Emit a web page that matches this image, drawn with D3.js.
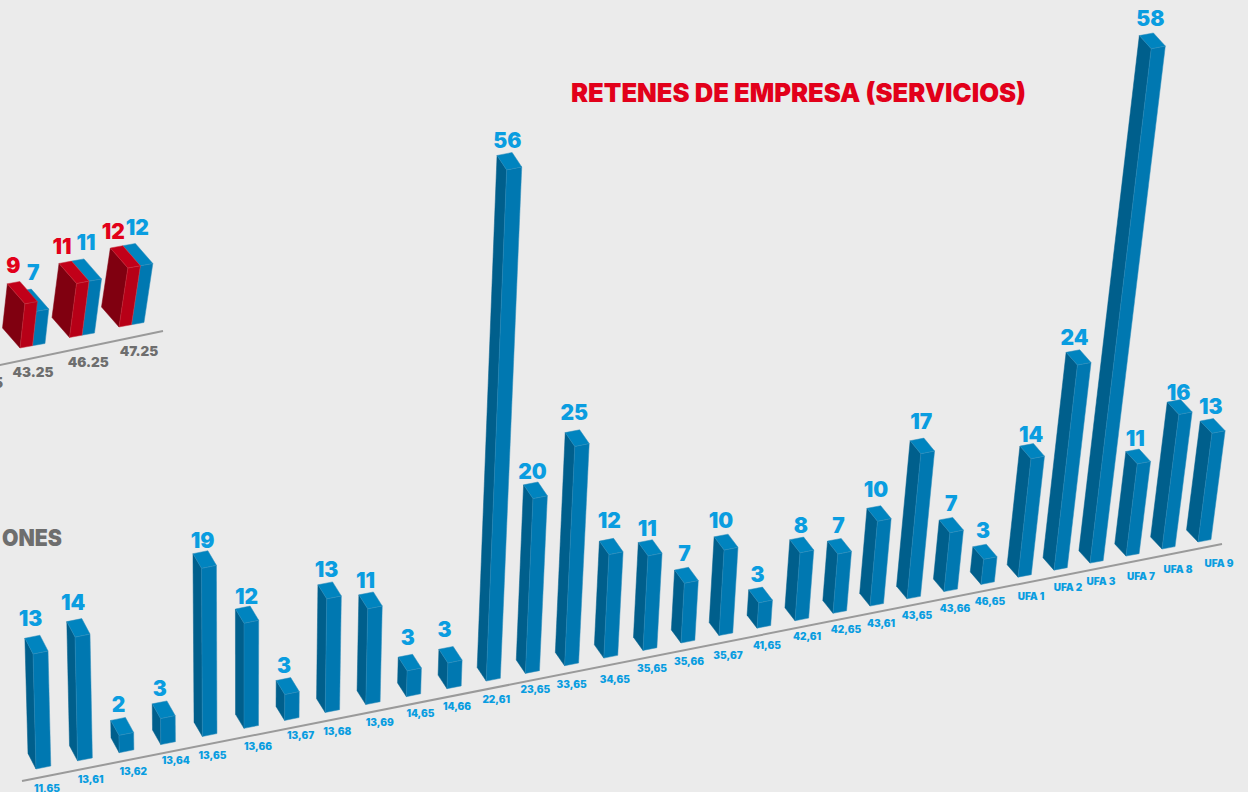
<!DOCTYPE html>
<html><head><meta charset="utf-8">
<style>html,body{margin:0;padding:0;background:#ebebeb;overflow:hidden}svg{display:block}
text{font-family:Inter,"Noto Sans",sans-serif;font-weight:900}</style>
<script src="https://cdn.jsdelivr.net/npm/d3@7/dist/d3.min.js"></script>
</head><body><svg id="c" width="1248" height="792"></svg>
<script>
// Main chart data
const categories = ["11,65","13,61","13,62","13,64","13,65","13,66","13,67","13,68","13,69","14,65","14,66","22,61","23,65","33,65","34,65","35,65","35,66","35,67","41,65","42,61","42,65","43,61","43,65","43,66","46,65","UFA 1","UFA 2","UFA 3","UFA 7","UFA 8","UFA 9"];
const values = [13,14,2,3,19,12,3,13,11,3,3,56,20,25,12,11,7,10,3,8,7,10,17,7,3,14,24,58,11,16,13];
// Secondary (clipped) chart data
const leftTicks = ["5","43.25","46.25","47.25"];
const leftRed = [null,9,11,12];
const leftBlue = [null,7,11,12];
// Hand placement of the labels, as in the reference
const tickNudgeX = [11,13,14,15,10,14,16,12,14,14,10,10,10,7,11,9,8,9,10,12,13,11,10,11,9,13,14,11,15,16,21];
const tickNudgeY = [19,19,19,16,19,18,15,19,18,17,18,18,16,19,21,18,18,20,17,16,16,17,17,17,17,19,17,18,20,20,21];
const valueNudgeX = [0,0,1,0,1,2,-2,-2,-4,-1,-5,-1,-2,-2,-1,-2,-1,-4,-2,0,0,-2,0,1,-1,0,-3,-1,-2,0,-1];
const valueNudgeY = [-3,-3,1,1,3,4,1,1,2,-3,-3,2,3,-4,-4,2,0,0,1,2,1,-3,-3,0,0,4,1,-1,3,6,1];

const BLUE = {side:"#005f8c", front:"#0078b1", top:"#0084bf", text:"#0a9de0"};
const RED = {side:"#800010", front:"#b70017", top:"#c10019", text:"#e2001a"};
const svg = d3.select("#c");
const poly = (g,pts,fill,edge)=>g.append("polygon")
  .attr("points",pts.map(p=>p.join(",")).join(" "))
  .attr("fill",fill).attr("stroke",edge).attr("stroke-width",0.5).attr("stroke-linejoin","round");
const add=(a,b,k=1)=>[a[0]+b[0]*k,a[1]+b[1]*k];

// Perspective scales of the main chart (index is 1-based along the axis)
const xBase = d3.scaleLinear().domain([1,6,11,16,21,26,31]).range([36,244,447,643,833,1018,1198]);
const yBase = d3.scaleLinear().domain([36,1198]).range([769,542]);
const perUnit = d3.scaleLinear().domain([1,12,31]).range([8.71,8.55,8.24]);
const stretch = d3.scaleLinear().domain([0,58]).range([1,1.07]);
const lean = d3.scaleLinear().domain([1,6,12,18,23,28,31]).range([-.026,0,.04,.059,.095,.119,.128]);
const wx = d3.scaleLinear().domain([1,31]).range([14.8,13]);
const wy = d3.scaleLinear().domain([1,31]).range([-3,-2.4]);
const dx = d3.scaleLinear().domain([1,12,31]).range([-8,-9,-11.5]);
const dy = d3.scaleLinear().domain([1,6,31]).range([-15.5,-14,-12]);
const labelShift = d3.scaleLinear().domain([1,8]).range([-6,-1]).clamp(true);

// Axis line
svg.append("line").attr("x1",22).attr("y1",781).attr("x2",1222).attr("y2",544)
  .attr("stroke","#9a9a9a").attr("stroke-width",2);

const bars = svg.append("g");
values.forEach((v,k)=>{
  const i=k+1, x=xBase(i), y=yBase(x), h=v*perUnit(i)*stretch(v), s=stretch(v);
  const FLb=[x,y], FLt=[x+lean(i)*h,y-h];
  const w=[wx(i),wy(i)], d=[dx(i),dy(i)];
  const FRb=add(FLb,w), FRt=add(FLt,w,s), BLb=add(FLb,d), BLt=add(FLt,d,s), BRt=add(BLt,w,s);
  const g=bars.append("g");
  poly(g,[FLb,FLt,BLt,BLb],BLUE.side,BLUE.side);
  poly(g,[FLb,FRb,FRt,FLt],BLUE.front,"#2c8cba");
  poly(g,[FLt,FRt,BRt,BLt],BLUE.top,"#2c8cba");
  const cx=(BLt[0]+FRt[0])/2+labelShift(i)+valueNudgeX[k];
  g.append("text").attr("x",cx).attr("y",BRt[1]-6+valueNudgeY[k]).attr("text-anchor","middle")
    .attr("font-size",21).attr("fill",BLUE.text).text(v);
  svg.append("text").attr("x",x+tickNudgeX[k]).attr("y",y+tickNudgeY[k]+3.6).attr("text-anchor","middle")
    .attr("font-size",10).attr("fill",BLUE.text).text(categories[k]);
});

// Secondary chart
const lx = d3.scaleLinear().domain([0,2]).range([20,119]);
const ly = d3.scaleLinear().domain([0,2]).range([348,327]);
const lh = d3.scaleLinear().domain([0,12]).range([0,59]);
const ll = d3.scaleLinear().domain([0,2]).range([.11,.15]);
const tickDx = d3.scaleLinear().domain([0,1,2]).range([13,18.7,20]);
svg.append("line").attr("x1",-5).attr("y1",366).attr("x2",163).attr("y2",331)
  .attr("stroke","#9a9a9a").attr("stroke-width",2);
leftTicks.forEach((t,k)=>{
  const gi=k-1, x=lx(gi), y=ly(gi);
  if(leftRed[k]==null){
    svg.append("text").attr("x",3).attr("y",y+24+5).attr("text-anchor","end")
      .attr("font-size",14).attr("fill","#6e6e6e").text(t);
    return;
  }
  svg.append("text").attr("x",x+tickDx(gi)).attr("y",y+24+5).attr("text-anchor","middle")
    .attr("font-size",13.5).attr("fill","#6e6e6e").text(t);
  const depth=[-17.5,-20], wR=[12.5,-2.3], wB=[12.5,-2.2];
  const g=svg.append("g");
  // blue box, behind
  const hB=lh(leftBlue[k]), bFLb=add([x,y],wR), bFLt=[bFLb[0]+ll(gi)*hB,bFLb[1]-hB];
  const bFRb=add(bFLb,wB), bFRt=add(bFLt,wB), bBLt=add(bFLt,depth), bBRt=add(bBLt,wB);
  poly(g,[bFLb,bFRb,bFRt,bFLt],BLUE.front,"#2c8cba");
  poly(g,[bFLt,bFRt,bBRt,bBLt],BLUE.top,"#2c8cba");
  // red box, in front
  const hR=lh(leftRed[k]), FLb=[x,y], FLt=[x+ll(gi)*hR,y-hR];
  const FRb=add(FLb,wR), FRt=add(FLt,wR), BLb=add(FLb,depth), BLt=add(FLt,depth), BRt=add(BLt,wR);
  poly(g,[FLb,FLt,BLt,BLb],RED.side,RED.side);
  poly(g,[FLb,FRb,FRt,FLt],RED.front,"#c8303f");
  poly(g,[FLt,FRt,BRt,BLt],RED.top,"#c8303f");
  g.append("text").attr("x",BLt[0]+(gi===0?6:3)).attr("y",BLt[1]-(gi===0?11:9)).attr("text-anchor","middle")
    .attr("font-size",21).attr("fill",RED.text).text(leftRed[k]);
  g.append("text").attr("x",bBRt[0]+2).attr("y",bBRt[1]-9).attr("text-anchor","middle")
    .attr("font-size",21).attr("fill",BLUE.text).text(leftBlue[k]);
});

// Titles
svg.append("text").attr("x",571).attr("y",102).attr("font-size",26).attr("fill","#e2001a")
  .attr("textLength",455).attr("lengthAdjust","spacingAndGlyphs").text("RETENES DE EMPRESA (SERVICIOS)");
svg.append("text").attr("x",2).attr("y",546).attr("font-size",23).attr("fill","#6e6e6e")
  .attr("textLength",60).attr("lengthAdjust","spacingAndGlyphs").text("ONES");
</script></body></html>
